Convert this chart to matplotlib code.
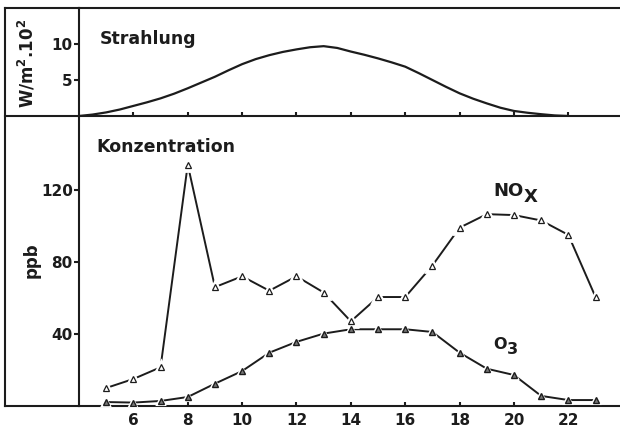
import matplotlib
matplotlib.use("Agg")
from matplotlib import pyplot as plt
from matplotlib.lines import Line2D

# hourly readings (Uhrzeit)
hours = list(range(5, 24))
nox = [10, 15, 21.5, 134, 66, 72, 64, 72, 63, 47, 60.5, 60.5, 78, 99, 106.5, 106, 103, 95, 60.5]
o3 = [2.2, 1.9, 2.8, 5, 12.4, 19.4, 29.6, 35.6, 40.2, 42.6, 42.6, 42.6, 41.1, 29.6, 20.7, 17.2, 5.6, 3.3, 3.3]

# radiation curve, read every half hour (W/m2 . 10^2)
rad_hours = [4 + 0.5 * i for i in range(37)]
rad = [0.0, 0.2, 0.5, 0.9, 1.4, 1.9, 2.45, 3.1, 3.85, 4.65, 5.45, 6.35, 7.2, 7.9, 8.45, 8.9,
       9.25, 9.55, 9.7, 9.45, 8.95, 8.5, 8.0, 7.45, 6.85, 5.95, 5.0, 4.05, 3.15, 2.4, 1.75, 1.15,
       0.7, 0.45, 0.25, 0.08, 0.0]

x_ticks = [6, 8, 10, 12, 14, 16, 18, 20, 22]
ink = '#1c1c1c'
W, H = 620, 432

plt.rcParams['font.family'] = 'DejaVu Sans'
plt.rcParams['font.weight'] = 'bold'
plt.rcParams['mathtext.default'] = 'regular'

fig = plt.figure(figsize=(6.2, 4.32), dpi=100)

ax_top = fig.add_axes([79 / W, 316 / H, 541 / W, 108 / H])
ax_bot = fig.add_axes([79 / W, 26 / H, 541 / W, 290 / H])

for ax in (ax_top, ax_bot):
    ax.set_xlim(4, 23.9)
    ax.spines['right'].set_visible(False)
    for s in ('left', 'top', 'bottom'):
        ax.spines[s].set_linewidth(1.5)
        ax.spines[s].set_color(ink)
    ax.set_xticks(x_ticks)
    ax.tick_params(axis='x', direction='in', length=3, width=1.5, color=ink)
    ax.tick_params(axis='y', direction='out', length=3.5, width=1.5, color=ink, pad=1)
    ax.tick_params(labelsize=11, labelcolor=ink)
    ax.patch.set_alpha(0)

ax_bot.spines['top'].set_visible(False)

# Strahlung panel
ax_top.plot(rad_hours, rad, color=ink, linewidth=1.6, solid_capstyle='round',
            solid_joinstyle='round')
ax_top.set_ylim(0, 15)
ax_top.set_yticks([5, 10])
ax_top.tick_params(axis='x', labelbottom=False)
ax_top.text(0.039, 0.671, "Strahlung", transform=ax_top.transAxes, fontsize=12.5,
            fontweight='bold', color=ink, va='baseline')

# Konzentration panel
ax_bot.plot(hours, nox, color=ink, linewidth=1.4, zorder=2)
ax_bot.plot(hours, nox, '^', ms=8, mfc='white', mec='white', mew=2, zorder=3)
ax_bot.plot(hours, nox, '^', ms=5, mfc='white', mec=ink, mew=0.9, zorder=4)
ax_bot.plot(hours, o3, color=ink, linewidth=1.4, zorder=2)
ax_bot.plot(hours, o3, '^', ms=6, mfc='white', mec='white', mew=1.5, zorder=3)
ax_bot.plot(hours, o3, '^', ms=4, mfc='#777777', mec=ink, mew=1.0, zorder=4)
ax_bot.set_ylim(0, 161)
ax_bot.set_yticks([40, 80, 120])
ax_bot.tick_params(axis='x', pad=5)
ax_bot.text(0.033, 0.877, "Konzentration", transform=ax_bot.transAxes, fontsize=12.5,
            fontweight='bold', color=ink, va='baseline')

# series labels
ax_bot.text(19.23, 116.7, "NO", fontsize=13, fontweight='bold', color=ink, va='baseline')
ax_bot.annotate("X", xy=(19.23, 116.7), xytext=(21.8, -4.5), textcoords='offset points',
                fontsize=13, fontweight='bold', color=ink, va='baseline')
ax_bot.text(19.24, 31.7, "O", fontsize=11.5, fontweight='bold', color=ink, va='baseline')
ax_bot.annotate("3", xy=(19.24, 31.7), xytext=(9.5, -4), textcoords='offset points',
                fontsize=11.5, fontweight='bold', color=ink, va='baseline')

# axis titles inside the left strip
fig.text(27 / W, 1 - 63 / H, r"W/m$^{2}$.10$^{2}$", rotation=90, fontsize=12,
         fontweight='bold', color=ink, ha='center', va='center')
fig.text(32 / W, 1 - 260 / H, "ppb", rotation=90, fontsize=12,
         fontweight='bold', color=ink, ha='center', va='center')

# outer frame, left strip
for y in (8, 116, 406):
    fig.add_artist(Line2D([5 / W, 79 / W], [1 - y / H, 1 - y / H], color=ink, linewidth=1.5))
fig.add_artist(Line2D([5 / W, 5 / W], [1 - 8 / H, 1 - 406 / H], color=ink, linewidth=1.5))

fig.savefig("out.png", dpi=100)
